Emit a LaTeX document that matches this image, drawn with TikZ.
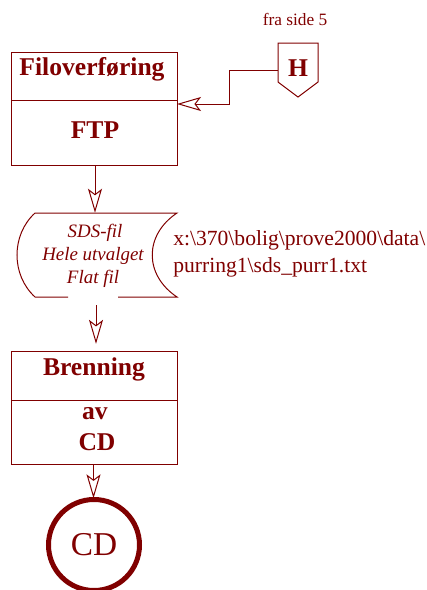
\documentclass[tikz,border=0pt]{standalone}
\usepackage{fontspec}
\setmainfont{Liberation Serif}
\usetikzlibrary{arrows.meta}
\definecolor{mr}{RGB}{128,0,0}
\begin{document}
\begin{tikzpicture}[x=0.75pt,y=-0.75pt,
  ln/.style={draw=mr,line width=0.75pt},
  arr/.style={ln,-{Stealth[open,length=18pt,width=10.5pt,inset=4pt]}},
  box/.style={ln,rectangle,inner sep=0pt},
  ttl/.style={text=mr,font=\fontsize{19.2}{23}\selectfont\bfseries,anchor=base,inner sep=0pt},
  itl/.style={text=mr,font=\fontsize{14.2}{17}\selectfont\itshape,anchor=base,inner sep=0pt},
  pth/.style={text=mr,font=\fontsize{16.2}{19}\selectfont,anchor=base west,inner sep=0pt}]
\useasboundingbox (0,0) rectangle (427,590);

% Box 1
\node[box,minimum width=166*0.75pt,minimum height=113*0.75pt] (ftp) at (94,108.5) {};
\draw[ln] (11,100) -- (177,100);
\node[ttl] (t1) at (92,75) {Filoverføring};
\node[ttl] (t2) at (95,138) {FTP};

% H connector
\node[text=mr,font=\fontsize{13}{15}\selectfont,anchor=base,inner sep=0pt] (fra) at (295,25) {fra side 5};
\draw[ln] (278,43) -- (318,43) -- (318,82) -- (298,97) -- (278,82) -- cycle;
\node[ttl] (H) at (298,76) {H};
\coordinate (hL) at (278,70);
\coordinate (hbend) at (229,70);
\coordinate (ftpR) at (177,104);
\draw[arr] (hL) -- (hbend) |- (ftpR);

% Storage
\node[inner sep=0pt,minimum width=160*0.75pt,minimum height=84*0.75pt] (sds) at (97,255) {};
\draw[ln] (35,213) -- (177,213) .. controls (144,235) and (144,275) .. (177,297) -- (118,297);
\draw[ln] (68,297) -- (35,297) .. controls (11,275) and (11,235) .. (35,213);
\node[itl] (s1) at (95,237) {SDS-fil};
\node[itl] (s2) at (93,260) {Hele utvalget};
\node[itl] (s3) at (93,283) {Flat fil};
\node[pth] (p1) at (173,245) {x:\textbackslash 370\textbackslash bolig\textbackslash prove2000\textbackslash data\textbackslash};
\node[pth] (p2) at (173,272) {purring1\textbackslash sds\_purr1.txt};

\draw[arr] (ftp.south -| 95,0) -- (sds.north -| 95,0);

% Box 2
\node[box,minimum width=166*0.75pt,minimum height=113*0.75pt] (bren) at (94,407.5) {};
\draw[ln] (11,400) -- (177,400);
\node[ttl] (b1) at (94,375) {Brenning};
\node[ttl] (b2) at (95,419) {av};
\node[ttl] (b3) at (97,450) {CD};

\draw[arr,shorten <=6pt,shorten >=5pt] (sds.south -| 96,0) -- (bren.north -| 96,0);

% CD circle
\node[circle,draw=mr,line width=3.75pt,minimum size=91*0.75pt,inner sep=0pt] (cd) at (94,545) {};
\node[text=mr,font=\fontsize{25}{30}\selectfont,anchor=base,inner sep=0pt] (cdt) at (94,555) {CD};
\draw[arr] (bren.south -| 93.5,0) -- ([yshift=-1pt]cd.north -| 93.5,0);
\end{tikzpicture}
\end{document}
